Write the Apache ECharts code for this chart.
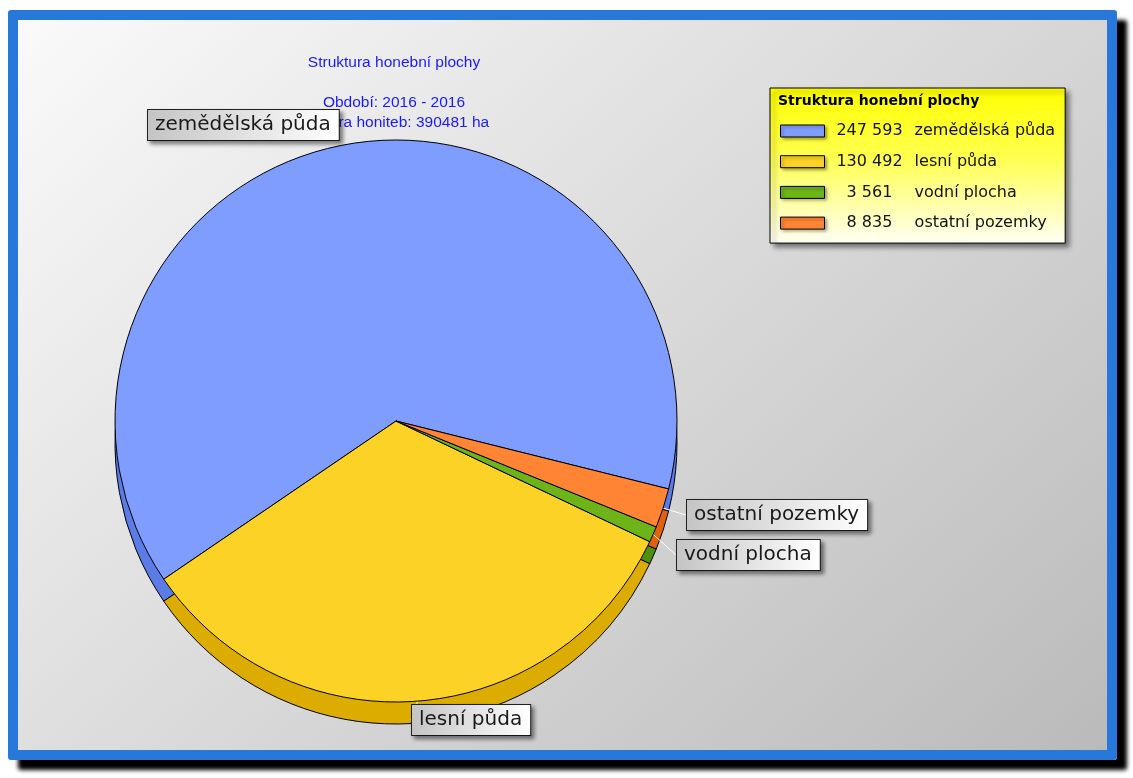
<!DOCTYPE html>
<html>
<head>
<meta charset="utf-8">
<script src="https://cdn.jsdelivr.net/npm/echarts@6/dist/echarts.min.js"></script>
<style>
  html, body { margin: 0; padding: 0; background: #fff; }
  #frame {
    position: absolute; left: 8px; top: 10px; width: 1089px; height: 730px;
    border: 10px solid #2878dc; border-radius: 3px;
    box-shadow: 10px 10px 4px #000;
    background: linear-gradient(138deg, #fafafa, #bababa);
  }
  #chart { position: absolute; left: 0; top: 0; width: 1133px; height: 778px; }
</style>
</head>
<body>
<div id="frame"></div>
<div id="chart"></div>
<script>
// data
const categories = ['zemědělská půda', 'lesní půda', 'vodní plocha', 'ostatní pozemky'];
const values = [247593, 130492, 3561, 8835];
const titleLines = ['Struktura honební plochy', '', 'Období: 2016 - 2016', 'Výměra honiteb: 390481 ha'];
const legendTitle = 'Struktura honební plochy';

// styles
const topColors = ['#7f9cff', '#fcd226', '#6cb418', '#ff8434'];
const sideColors = ['#5b7be6', '#dcac00', '#4f900c', '#e0620e'];
const labelPos = [[148, 110], [412, 705], [677, 540], [687, 500]];

const fmt = v => String(v).replace(/\B(?=(\d{3})+(?!\d))/g, ' ');

const chart = echarts.init(document.getElementById('chart'));

const pieBase = {
  type: 'pie',
  radius: 281,
  startAngle: 346,
  clockwise: false,
  avoidLabelOverlap: false,
  animation: false,
  emphasis: { disabled: true },
  itemStyle: { borderColor: '#000', borderWidth: 1 }
};

chart.setOption({
  animation: false,
  graphic: [
    {
      type: 'text', z: 0,
      x: 394, y: 53,
      style: {
        text: titleLines.join('\n'),
        fill: '#1a1aff',
        font: '15.5px "Liberation Sans"',
        lineHeight: 20,
        textAlign: 'center'
      }
    },
    {
      type: 'text', z: 20,
      x: 778, y: 94,
      style: {
        text: legendTitle,
        fill: '#000',
        font: 'bold 14px "DejaVu Sans"'
      }
    }
  ],
  legend: {
    orient: 'vertical',
    left: 770,
    top: 88,
    z: 10,
    data: categories,
    padding: [35, 10, 12, 10],
    itemWidth: 44,
    itemHeight: 12,
    itemGap: 14.7,
    icon: 'rect',
    selectedMode: false,
    backgroundColor: new echarts.graphic.LinearGradient(0, 0, 0, 1, [
      { offset: 0, color: '#ffff00' },
      { offset: 0.45, color: '#ffff50' },
      { offset: 1, color: '#fffff4' }
    ]),
    borderColor: '#000',
    borderWidth: 1,
    shadowColor: 'rgba(0,0,0,0.5)',
    shadowBlur: 5,
    shadowOffsetX: 4,
    shadowOffsetY: 4,
    itemStyle: {
      borderColor: '#000', borderWidth: 1,
      shadowColor: 'rgba(0,0,0,0.35)', shadowBlur: 3, shadowOffsetX: 2, shadowOffsetY: 2
    },
    textStyle: {
      fontFamily: 'DejaVu Sans', fontSize: 16, lineHeight: 16, color: '#111',
      rich: { n: { width: 80, align: 'right', fontFamily: 'DejaVu Sans', fontSize: 16, lineHeight: 16, color: '#111' } }
    },
    formatter: name => '{n|' + fmt(values[categories.indexOf(name)]) + '} ' + name
  },
  series: [
    Object.assign({}, pieBase, {
      name: 'top',
      z: 4,
      center: [396, 421],
      data: categories.map((c, i) => ({
        name: c, value: values[i],
        itemStyle: { color: topColors[i] },
        labelLine: { show: i !== 0 }
      })),
      label: {
        show: true,
        position: 'outside',
        formatter: '{b}',
        fontFamily: 'DejaVu Sans',
        fontSize: 20,
        lineHeight: 24,
        color: '#1a1a1a',
        padding: [3, 8, 3, 7],
        backgroundColor: new echarts.graphic.LinearGradient(0, 0, 1, 0, [
          { offset: 0, color: '#c4c4c4' },
          { offset: 1, color: '#ffffff' }
        ]),
        borderColor: '#222',
        borderWidth: 1,
        shadowColor: 'rgba(0,0,0,0.45)',
        shadowBlur: 4,
        shadowOffsetX: 3,
        shadowOffsetY: 3
      },
      labelLine: { show: true, length: 8, length2: 0, lineStyle: { color: '#fff', width: 1 } },
      labelLayout: params => {
        const p = labelPos[params.dataIndex];
        return { x: p[0], y: p[1], align: 'left', verticalAlign: 'top' };
      }
    }),
    Object.assign({}, pieBase, {
      name: 'side',
      z: 3,
      silent: true,
      center: [396, 443],
      data: categories.map((c, i) => ({
        name: c, value: values[i],
        itemStyle: { color: sideColors[i] }
      })),
      label: { show: false },
      labelLine: { show: false }
    })
  ]
});
</script>
</body>
</html>
